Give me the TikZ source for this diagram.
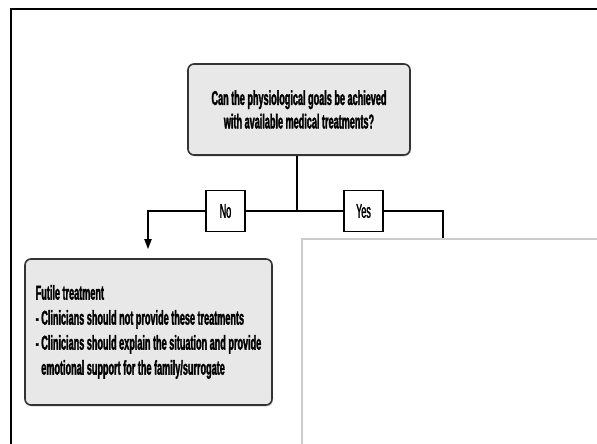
\documentclass[tikz,border=0pt]{standalone}
\usepackage{fontspec}
\newfontfamily\cond{Liberation Sans}[FakeStretch=0.455,FakeBold=1.5]
\newfontfamily\condreg{Liberation Sans}[FakeStretch=0.45,FakeBold=1.5]
\usetikzlibrary{arrows.meta,shadows}
\begin{document}
\begin{tikzpicture}[x=1pt,y=-1pt,
  graybox/.style={draw=black!80, line width=1.6pt, fill=black!9, rounded corners=6pt,
    drop shadow={shadow xshift=1pt,shadow yshift=-1.5pt,opacity=0.3}, inner sep=0pt},
  lbl/.style={draw=black, line width=1.4pt, fill=white, minimum width=39pt, minimum height=41pt, inner sep=0pt,
    font=\condreg\fontsize{20}{24}\selectfont},
  conn/.style={draw=black, line width=1.8pt},
  tip/.style={-{Triangle[length=10pt,width=7pt]}}]
\useasboundingbox (0,0) rectangle (597,444);
\fill[white] (0,0) rectangle (597,444);
% outer frame (continues beyond the crop)
\node[draw=black, line width=2.5pt, anchor=north west, minimum width=700pt, minimum height=600pt, inner sep=0pt] (frame) at (9.5,8) {};
% question
\node[graybox, minimum width=222pt, minimum height=91pt, align=center,
  font=\cond\bfseries\fontsize{20}{23.5}\selectfont] (q) at (299,109.5)
  {Can the physiological goals be achieved\\with available medical treatments?};
% futile treatment
\node[graybox, minimum width=247pt, minimum height=146pt, align=left,
  font=\cond\bfseries\fontsize{20}{25}\selectfont] (futile) at (148.5,332)
  {Futile treatment\\- Clinicians should not provide these treatments\\- Clinicians should explain the situation and provide\\\hphantom{- }emotional support for the family/surrogate};
% white panel covering the rest
\node[draw=black!20, line width=1.5pt, fill=white, anchor=north west, minimum width=320pt, minimum height=230pt, inner sep=0pt] (panel) at (301,238) {};
% connectors
\coordinate (j) at (297,211);
\coordinate (lc) at (148,211);
\coordinate (rc) at (443,211);
\node[lbl] (no) at (225.5,211) {No};
\node[lbl] (yes) at (363.5,211) {Yes};
\draw[conn] (q.south -| j) -- (j);
\draw[conn] (j) -- (no.east);
\draw[conn] (j) -- (yes.west);
\draw[conn, tip, shorten >=9pt] (no.west) -- (lc) -- (lc |- futile.north);
\draw[conn] (yes.east) -- (rc) -- (rc |- panel.north);
\end{tikzpicture}
\end{document}
